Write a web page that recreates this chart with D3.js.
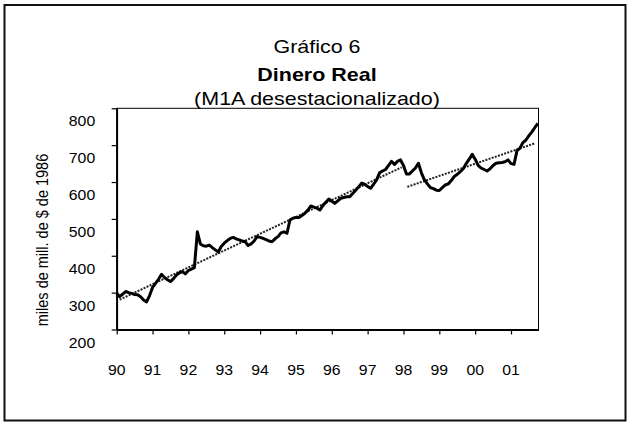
<html>
    <head>
        <meta http-equiv="Content-Type" content="text/html;charset=utf-8"/>
        <script type="text/javascript" src="https://d3js.org/d3.v7.min.js"></script>
        <style type="text/css">
            body { margin: 0; background: #fff; }
            text { font-family: "Liberation Sans", Arial, sans-serif; fill: #000; }
            .axis path, .axis line { stroke: #000; }
        </style>
    </head>
    <body>
        <div id="body"></div>
        <script type="text/javascript">

            // years shown on the x axis (one tick each january)
            var yearLabels = ["90", "91", "92", "93", "94", "95", "96", "97", "98", "99", "00", "01"];
            var yTicks = [200, 300, 400, 500, 600, 700, 800];

            // M1A real, monthly from jan 1990 to oct 2001
            var m1a = [
                298, 289, 296, 303, 300, 298, 295, 294, 289, 280, 275, 292,
                314, 325, 336, 350, 341, 335, 330, 338, 348, 354, 357, 351,
                360, 364, 368, 465, 432, 427, 426, 429, 422, 416, 410, 425,
                434, 441, 447, 450, 446, 443, 440, 438, 428, 432, 440, 452,
                450, 447, 444, 440, 438, 446, 452, 462, 465, 461, 497, 502,
                504, 504, 509, 515, 524, 535, 532, 529, 524, 536, 545, 554,
                548, 542, 549, 556, 558, 560, 560, 569, 578, 587, 597, 594,
                588, 583, 594, 606, 625, 630, 634, 645, 656, 648, 656, 660,
                645, 622, 622, 630, 638, 651, 625, 606, 595, 585, 582, 578,
                577, 585, 592, 595, 604, 615, 621, 628, 636, 650, 662, 675,
                662, 645, 638, 634, 630, 636, 645, 651, 652, 653, 655, 660,
                650, 648, 685, 692, 707, 714, 726, 736, 748, 759
            ];

            // trend lines: [month index, value] at both ends
            var trend1 = [[1, 281], [95.4, 640]];
            var trend2 = [[97.3, 587], [140, 705]];

            var w = 629,
                h = 422,
                sx = 1.13; // text in the original is a bit wider than tall

            var x = d3.scaleLinear().domain([0, 141.2]).range([116.7, 538.5]),
                y = d3.scaleLinear().domain([200, 800]).range([329.5, 108.3]);

            var svg = d3.select("#body").append("svg")
                .attr("width", w)
                .attr("height", h);

            // outer frame
            svg.append("rect")
                .attr("x", 4.5).attr("y", 5)
                .attr("width", 621).attr("height", 415.5)
                .attr("fill", "none")
                .attr("stroke", "#111")
                .attr("stroke-width", 2);

            // titles
            var titles = [
                {t: "Gráfico 6", y: 52.5, b: false},
                {t: "Dinero Real", y: 81, b: true},
                {t: "(M1A desestacionalizado)", y: 104.5, b: false}
            ];
            svg.selectAll("text.title")
                .data(titles)
                .enter().append("text")
                .attr("class", "title")
                .attr("transform", function(d) { return "translate(317," + d.y + ") scale(" + sx + ",1)"; })
                .attr("text-anchor", "middle")
                .style("font-size", "19px")
                .style("font-weight", function(d) { return d.b ? "bold" : "normal"; })
                .text(function(d) { return d.t; });

            // plot box (top and right sides)
            svg.append("rect")
                .attr("x", x.range()[0]).attr("y", y.range()[1])
                .attr("width", x.range()[1] - x.range()[0])
                .attr("height", y.range()[0] - y.range()[1])
                .attr("fill", "none")
                .attr("stroke", "#000")
                .attr("stroke-width", 1);

            var yAxis = svg.append("g")
                .attr("class", "axis")
                .attr("transform", "translate(" + x.range()[0] + ",0)")
                .call(d3.axisLeft(y).tickValues(yTicks).tickSize(5).tickSizeOuter(0));
            yAxis.select(".domain").attr("stroke-width", 1.8);
            yAxis.selectAll("line").attr("stroke-width", 1.2);
            yAxis.selectAll("text")
                .attr("x", 0).attr("y", 0).attr("dy", "0.35em")
                .attr("transform", "translate(-21.5,12.7) scale(" + sx + ",1)")
                .style("font-size", "14px")
                .style("font-family", "'Liberation Sans', Arial, sans-serif")
                .attr("fill", "#000");

            var xAxis = svg.append("g")
                .attr("class", "axis")
                .attr("transform", "translate(0," + y.range()[0] + ")")
                .call(d3.axisBottom(x)
                    .tickValues(yearLabels.map(function(d, i) { return i * 12; }))
                    .tickFormat(function(d, i) { return yearLabels[i]; })
                    .tickSize(5).tickSizeOuter(0));
            xAxis.select(".domain").attr("stroke-width", 1.8);
            xAxis.selectAll("line").attr("stroke-width", 1.2);
            xAxis.selectAll("text")
                .attr("x", 0).attr("y", 0).attr("dy", 0)
                .attr("transform", "translate(-0.5,45.5) scale(" + sx + ",1)")
                .style("font-size", "14px")
                .style("font-family", "'Liberation Sans', Arial, sans-serif")
                .attr("fill", "#000");

            // y axis title
            svg.append("text")
                .attr("transform", "translate(48,240) scale(" + sx + ",1) rotate(-90)")
                .attr("text-anchor", "middle")
                .style("font-size", "14.5px")
                .text("miles de mill. de $ de 1986");

            var line = d3.line()
                .x(function(d, i) { return x(i); })
                .y(function(d) { return y(d); });

            var tline = d3.line()
                .x(function(d) { return x(d[0]); })
                .y(function(d) { return y(d[1]); });

            [trend1, trend2].forEach(function(t) {
                svg.append("path")
                    .datum(t)
                    .attr("d", tline)
                    .attr("fill", "none")
                    .attr("stroke", "#222")
                    .attr("stroke-width", 2)
                    .attr("stroke-dasharray", "2,1.3");
            });

            svg.append("path")
                .datum(m1a)
                .attr("d", line)
                .attr("fill", "none")
                .attr("stroke", "#000")
                .attr("stroke-width", 3)
                .attr("stroke-linejoin", "round");

        </script>
    </body>
</html>
